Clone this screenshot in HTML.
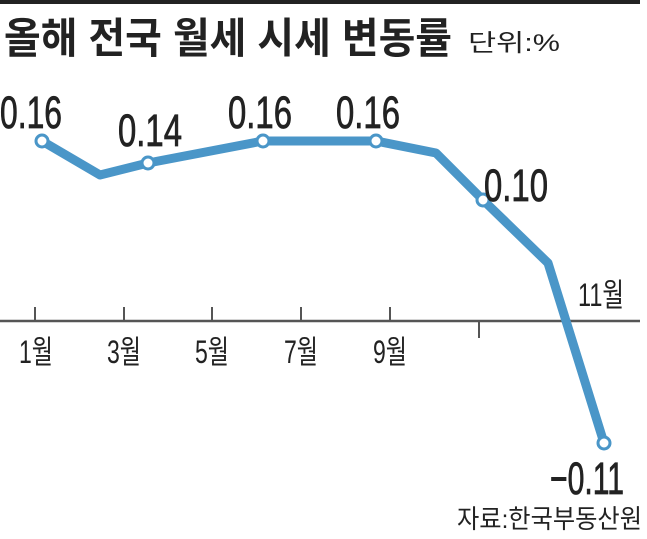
<!DOCTYPE html>
<html><head><meta charset="utf-8"><style>
body{margin:0;background:#fff;width:647px;height:534px;overflow:hidden}
text{font-family:"Liberation Sans","Noto Sans CJK KR",sans-serif;fill:#222}
</style></head><body>
<svg width="647" height="534" viewBox="0 0 647 534">
<rect x="0" y="0" width="640" height="4" fill="#222"/>
<text x="4" y="53" font-size="42" font-weight="bold" textLength="448" lengthAdjust="spacingAndGlyphs" fill="#2a2a2a">올해 전국 월세 시세 변동률</text>
<text x="468" y="51" font-size="24" textLength="92" lengthAdjust="spacingAndGlyphs">단위:%</text>
<line x1="0" y1="321" x2="640" y2="321" stroke="#555" stroke-width="2.5"/>
<g stroke="#555" stroke-width="2">
<line x1="35" y1="307" x2="35" y2="321"/><line x1="124" y1="307" x2="124" y2="321"/>
<line x1="212" y1="307" x2="212" y2="321"/><line x1="301" y1="307" x2="301" y2="321"/>
<line x1="390" y1="307" x2="390" y2="321"/><line x1="479" y1="321" x2="479" y2="338"/>
</g>
<g font-size="32" text-anchor="middle">
<text x="36" y="363" textLength="34" lengthAdjust="spacingAndGlyphs">1월</text>
<text x="124" y="363" textLength="34" lengthAdjust="spacingAndGlyphs">3월</text>
<text x="212" y="363" textLength="34" lengthAdjust="spacingAndGlyphs">5월</text>
<text x="301" y="363" textLength="34" lengthAdjust="spacingAndGlyphs">7월</text>
<text x="390" y="363" textLength="34" lengthAdjust="spacingAndGlyphs">9월</text>
<text x="601" y="306" textLength="46" lengthAdjust="spacingAndGlyphs">11월</text>
</g>
<polyline points="42,141 100,175 148,163 263,141 376,141 436,153 483,200 548,263 604,443" fill="none" stroke="#4a96c8" stroke-width="9" stroke-linejoin="round"/>
<g fill="#fff" stroke="#4a96c8" stroke-width="3">
<circle cx="42" cy="141" r="6"/><circle cx="148" cy="163" r="6"/><circle cx="263" cy="141" r="6"/>
<circle cx="376" cy="141" r="6"/><circle cx="483" cy="200" r="6"/><circle cx="604" cy="443" r="6"/>
</g>
<g font-size="45" stroke="#222" stroke-width="0.8">
<text x="0" y="128" textLength="62" lengthAdjust="spacingAndGlyphs">0.16</text>
<text x="118" y="146" textLength="64" lengthAdjust="spacingAndGlyphs">0.14</text>
<text x="228" y="128" textLength="64" lengthAdjust="spacingAndGlyphs">0.16</text>
<text x="336" y="128" textLength="64" lengthAdjust="spacingAndGlyphs">0.16</text>
<text x="484" y="201" textLength="64" lengthAdjust="spacingAndGlyphs">0.10</text>
<text x="550" y="494" textLength="74" lengthAdjust="spacingAndGlyphs">−0.11</text>
</g>
<text x="457" y="528" font-size="26" textLength="185" lengthAdjust="spacingAndGlyphs">자료:한국부동산원</text>
</svg>
</body></html>
